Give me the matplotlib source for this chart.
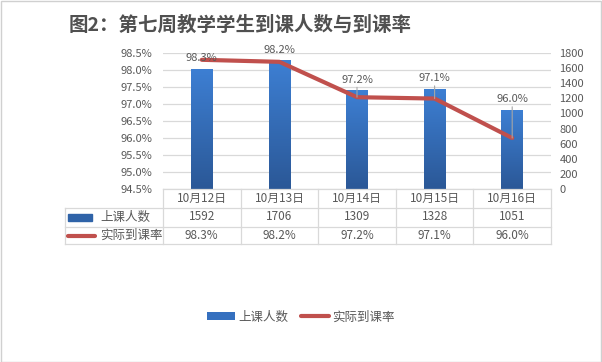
import numpy as np
import matplotlib
matplotlib.use("Agg")
import matplotlib.pyplot as plt
from matplotlib.patches import Patch, Rectangle
from matplotlib.lines import Line2D
from matplotlib.transforms import blended_transform_factory, ScaledTranslation
from matplotlib.colors import LinearSegmentedColormap

plt.rcParams['font.family'] = ['Noto Sans CJK SC', 'DejaVu Sans']

# data
title = "图2：第七周教学学生到课人数与到课率"
dates = ["10月12日", "10月13日", "10月14日", "10月15日", "10月16日"]
attend = [1592, 1706, 1309, 1328, 1051]
rate = [98.3, 98.24, 97.2, 97.16, 96.0]
rate_labels = ["98.3%", "98.2%", "97.2%", "97.1%", "96.0%"]
bar_name = "上课人数"
line_name = "实际到课率"

txt = "#595959"
grid = "#d9d9d9"
red = "#c0504d"
W, H = 602, 362

fig = plt.figure(figsize=(W / 100, H / 100), dpi=100)
fig.patch.set_facecolor("white")

def fy(py):
    return 1 - py / H

def fx(px):
    return px / W

# outer border
fig.add_artist(Rectangle((0.5 / W, 0.5 / H), 1 - 1.5 / W, 1 - 1.5 / H, transform=fig.transFigure,
                         fill=False, ec="#d0d0d0", lw=1))

ax = fig.add_axes([fx(163), fy(189), fx(551) - fx(163), fy(53) - fy(189)])
ax2 = ax.twinx()

x = np.arange(len(dates))

# rate axis (left)
ax.set_ylim(94.5, 98.5)
ax.set_yticks(np.arange(94.5, 98.51, 0.5))
ax.set_yticklabels(["%.1f%%" % v for v in np.arange(94.5, 98.51, 0.5)])
ax.set_xlim(-0.5, len(dates) - 0.5)
ax.set_xticks([])
ax.grid(axis="y", color=grid, lw=0.9)
ax.set_axisbelow(True)

# counts axis (right)
ax2.set_ylim(0, 1800)
ax2.set_yticks(range(0, 1801, 200))

for a in (ax, ax2):
    for s in a.spines.values():
        s.set_visible(False)
    a.tick_params(length=0, labelsize=8, labelcolor=txt, pad=8)
ax2.tick_params(pad=6)

# bars with gradient
cmap = LinearSegmentedColormap.from_list("b", ["#2b5897", "#3d7fd3"])
grad = np.linspace(0, 1, 100).reshape(-1, 1)
bars = ax2.bar(x, attend, width=0.28, color="#3570bf", zorder=2)
for b in bars:
    im = ax2.imshow(grad, cmap=cmap, origin="lower", aspect="auto", zorder=2,
                    extent=(b.get_x(), b.get_x() + b.get_width(), 0, b.get_height()))
    im.set_clip_path(b)

# rate line on top
ax3 = ax.twinx()
ax3.set_ylim(94.5, 98.5)
ax3.axis("off")
ax3.plot(x, rate, color=red, lw=3, solid_capstyle="round", zorder=3)

off = ScaledTranslation(0, 4 / 72, fig.dpi_scale_trans)
for i in range(len(dates)):
    kw = {}
    if i >= 2:
        kw = dict(arrowprops=dict(arrowstyle="-", color="#a6a6a6", lw=0.8, shrinkA=0, shrinkB=0))
    ax3.annotate(rate_labels[i], xy=(i, rate[i]), xycoords="data",
                 xytext=(i, attend[i]), textcoords=ax2.transData + off,
                 ha="center", va="bottom", fontsize=8, color=txt, zorder=5, **kw)

# data table
bt = blended_transform_factory(ax.transData, fig.transFigure)
tl = dict(color=grid, lw=0.9, transform=fig.transFigure)
fig.add_artist(Line2D([fx(163), fx(551)], [fy(189), fy(189)], **tl))
fig.add_artist(Line2D([fx(65), fx(551)], [fy(208), fy(208)], **tl))
fig.add_artist(Line2D([fx(65), fx(551)], [fy(226.5), fy(226.5)], **tl))
fig.add_artist(Line2D([fx(65), fx(551)], [fy(244), fy(244)], **tl))
fig.add_artist(Line2D([fx(65), fx(65)], [fy(208), fy(244)], **tl))
for i in range(len(dates) + 1):
    fig.add_artist(Line2D([i - 0.5, i - 0.5], [fy(189), fy(244)], color=grid, lw=0.9, transform=bt))

for i in range(len(dates)):
    fig.text(i, fy(198.5), dates[i], transform=bt, ha="center", va="center", fontsize=8.5, color=txt)
    fig.text(i, fy(217), str(attend[i]), transform=bt, ha="center", va="center", fontsize=8.5, color=txt)
    fig.text(i, fy(235.5), rate_labels[i], transform=bt, ha="center", va="center", fontsize=8.5, color=txt)

fig.add_artist(Rectangle((fx(68), fy(220.5)), fx(92) - fx(68), fy(214) - fy(220.5),
                         transform=fig.transFigure, color="#2f63a8"))
fig.text(fx(100), fy(217), bar_name, ha="left", va="center", fontsize=9, color=txt)
fig.add_artist(Line2D([fx(68), fx(95)], [fy(235.5), fy(235.5)], color=red, lw=3,
                      solid_capstyle="round", transform=fig.transFigure))
fig.text(fx(100), fy(235.5), line_name, ha="left", va="center", fontsize=9, color=txt)

# title
fig.text(fx(240), fy(25), title, ha="center", va="center", fontsize=14, fontweight="bold", color="#505050")

# legend
handles = [Patch(facecolor="#3570bf", edgecolor="none"),
           Line2D([0], [0], color=red, lw=3, solid_capstyle="round")]
fig.legend(handles, [bar_name, line_name], loc="center", bbox_to_anchor=(fx(301), fy(317)),
           ncol=2, frameon=False, fontsize=9, labelcolor=txt, handlelength=2.2,
           handleheight=0.6, columnspacing=1.0, handletextpad=0.3)

fig.savefig("out.png", dpi=100)
